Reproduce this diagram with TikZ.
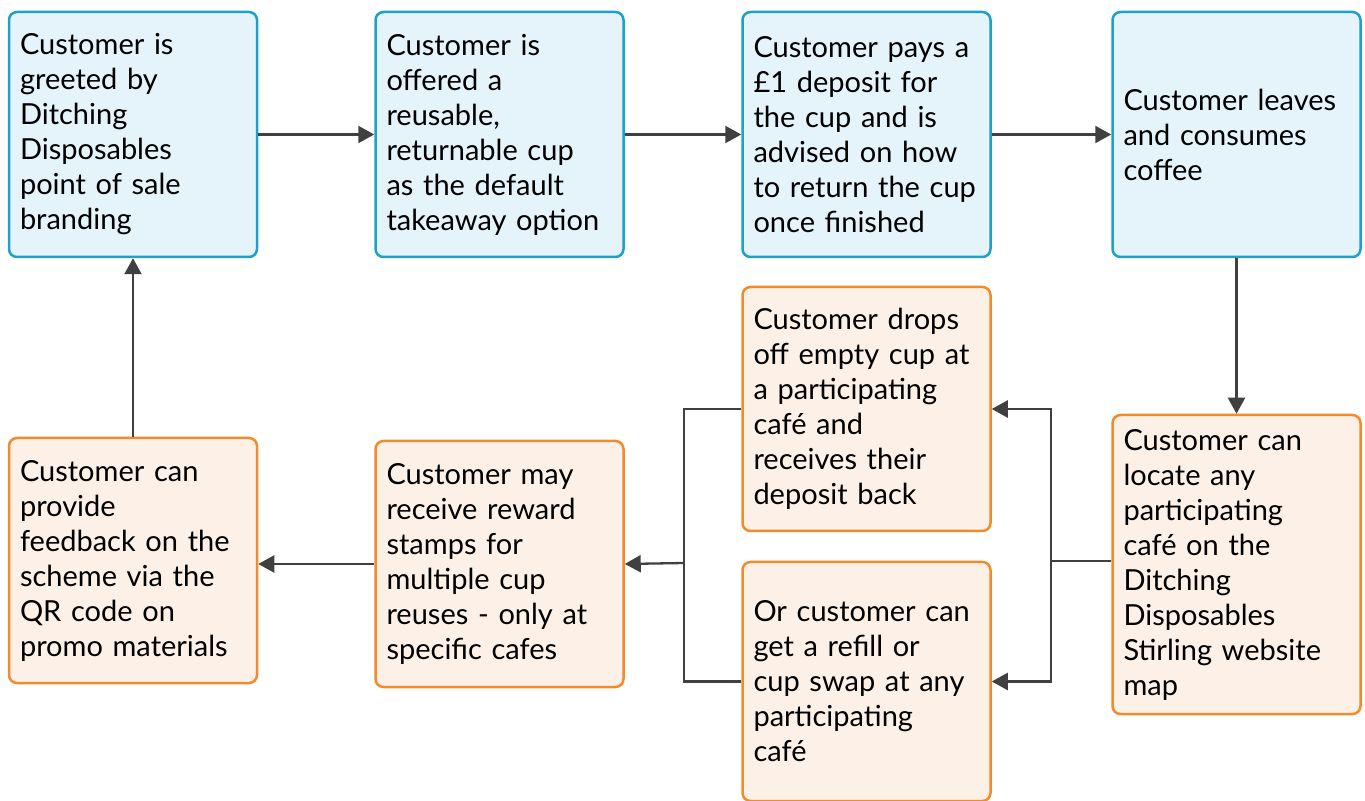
\documentclass[tikz,border=0pt]{standalone}
\usepackage{fontspec}
\setmainfont{Lato}
\usetikzlibrary{arrows.meta}
\definecolor{bordbleu}{HTML}{1DA1C9}
\definecolor{fondbleu}{HTML}{E5F4FA}
\definecolor{bordorange}{HTML}{F28A2E}
\definecolor{fondorange}{HTML}{FDF1E7}
\definecolor{gris}{HTML}{404040}
\newcommand\policeboite{\fontsize{14.5}{17.5}\selectfont\hyphenpenalty=10000\relax}
\tikzset{
  boite/.style={rectangle, rounded corners=4pt, line width=1.25pt,
    minimum width=124pt, text width=113pt, inner xsep=5.5pt, align=left,
    font=\policeboite},
  bleue/.style={boite, draw=bordbleu, fill=fondbleu, minimum height=122.5pt},
  orange/.style={boite, draw=bordorange, fill=fondorange},
  fleche/.style={draw=gris, line width=1.15pt, -{Triangle[length=8pt,width=8.5pt]}},
  trait/.style={draw=gris, line width=1.15pt}
}
\begin{document}
\begin{tikzpicture}[x=0.5pt, y=-0.5pt]
        \useasboundingbox (0,0) rectangle (1365,801);

        \node[bleue] (greet) at (133,134.5) {Customer is\\greeted by\\Ditching\\Disposables\\point of sale\\branding};
        \node[bleue] (offer) at (499.5,134.5) {Customer is\\offered a\\reusable,\\returnable cup\\as the default\\takeaway option};
        \node[bleue] (pay) at (866.5,134.5) {Customer pays a\\£1 deposit for\\the cup and is\\advised on how\\to return the cup\\once finished};
        \node[bleue] (leave) at (1236.5,134.5) {Customer leaves\\and consumes\\coffee};

        \node[orange, minimum height=149.5pt] (locate) at (1236.5,564.5) {Customer can\\locate any\\participating\\café on the\\Ditching\\Disposables\\Stirling website\\map};
        \node[orange, minimum height=122pt] (drop) at (866.5,409) {Customer drops\\off empty cup at\\a participating\\café and\\receives their\\deposit back};
        \node[orange, minimum height=119.5pt] (refill) at (866.5,681.5) {Or customer can\\get a refill or\\cup swap at any\\participating\\café};
        \node[orange, minimum height=123pt] (reward) at (499.5,564) {Customer may\\receive reward\\stamps for\\multiple cup\\reuses - only at\\specific cafes};
        \node[orange, minimum height=122.5pt] (feedback) at (133,560.5) {Customer can\\provide\\feedback on the\\scheme via the\\QR code on\\promo materials};

        \coordinate (splitR) at (1051,561);
        \coordinate (mergeL) at (684,563);

        \draw[fleche] (greet) -- (offer);
        \draw[fleche] (offer) -- (pay);
        \draw[fleche] (pay) -- (leave);
        \draw[fleche] (leave) -- (locate);

        \draw[trait] (locate.west |- splitR) -- (splitR);
        \draw[fleche] (splitR) |- (drop.east);
        \draw[fleche] (splitR) |- (refill.east);

        \draw[trait] (drop.west) -| (mergeL);
        \draw[trait] (refill.west) -| (mergeL);
        \draw[fleche] (mergeL) -- (reward.east);

        \draw[fleche] (reward.west) -- (reward.west -| feedback.east);
        \draw[fleche] (feedback) -- (greet);
\end{tikzpicture}
\end{document}
